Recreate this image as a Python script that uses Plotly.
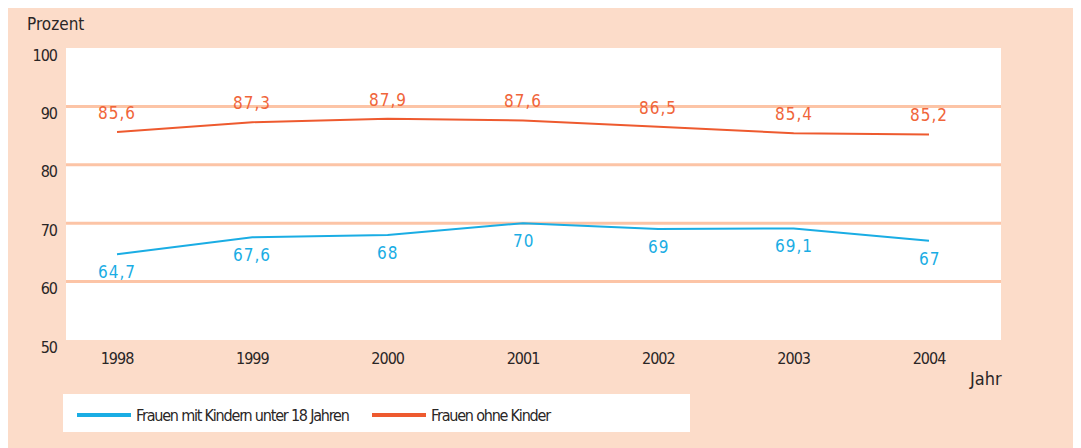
import plotly.graph_objects as go

years = [1998, 1999, 2000, 2001, 2002, 2003, 2004]
mit_kindern = [64.7, 67.6, 68.0, 70.0, 69.0, 69.1, 67.0]
ohne_kinder = [85.6, 87.3, 87.9, 87.6, 86.5, 85.4, 85.2]
y_ticks = [50, 60, 70, 80, 90, 100]
name_mit = "Frauen mit Kindern unter 18 Jahren"
name_ohne = "Frauen ohne Kinder"

BLUE = "#1AADE4"
ORANGE = "#EE5A2F"
LBL_ORANGE = "#F0653A"
PEACH = "#FCDCC9"
GRID = "#FCC4A6"
DARK = "#2A2626"
FONT = "DejaVu Sans Condensed, DejaVu Sans, sans-serif"

W, H = 1081, 440
L, R, T, B = 58, 88, 40, 108
pw, ph = W - L - R, H - T - B


def px_x(p):
    return (p - L) / pw


def px_y(p):
    return (H - B - p) / ph


def fmt(v):
    s = ("%.1f" % v).replace(".", ",")
    if s.endswith(",0"):
        s = s[:-2]
    return s


def sp(text, ls):
    return '<span style="letter-spacing:%spx">%s</span>' % (ls, text)


fig = go.Figure()
fig.add_trace(go.Scatter(x=years, y=mit_kindern, mode="lines", line=dict(color=BLUE, width=2),
                         showlegend=False, hoverinfo="skip"))
fig.add_trace(go.Scatter(x=years, y=ohne_kinder, mode="lines", line=dict(color=ORANGE, width=2),
                         showlegend=False, hoverinfo="skip"))
# legend entries
fig.add_trace(go.Scatter(x=[None], y=[None], mode="lines", line=dict(color=BLUE, width=4),
                         name=sp(name_mit, -1.2)))
fig.add_trace(go.Scatter(x=[None], y=[None], mode="lines", line=dict(color=ORANGE, width=4),
                         name=sp(name_ohne, -1.2)))

anns = []
for x, v in zip(years, mit_kindern):
    anns.append(dict(x=x, y=v, xref="x", yref="y", text=sp(fmt(v), 1),
                     showarrow=False, yshift=-18, font=dict(family=FONT, size=17, color=BLUE)))
for x, v in zip(years, ohne_kinder):
    anns.append(dict(x=x, y=v, xref="x", yref="y", text=sp(fmt(v), 1),
                     showarrow=False, yshift=19, font=dict(family=FONT, size=17, color=LBL_ORANGE)))
anns.append(dict(x=px_x(17), y=px_y(16), xref="paper", yref="paper", text="Prozent", showarrow=False,
                 xanchor="left", yanchor="middle", font=dict(family=FONT, size=17, color=DARK)))
anns.append(dict(x=px_x(996), y=px_y(370), xref="paper", yref="paper", text="Jahr", showarrow=False,
                 xanchor="right", yanchor="middle", font=dict(family=FONT, size=18, color=DARK)))

shapes = [
    # legend box
    dict(type="rect", xref="paper", yref="paper", x0=px_x(55), x1=px_x(682), y0=px_y(424), y1=px_y(386),
         fillcolor="white", line_width=0, layer="below"),
]

fig.update_layout(
    width=W, height=H,
    margin=dict(l=L, r=R, t=T, b=B, pad=0),
    paper_bgcolor=PEACH, plot_bgcolor="white",
    font=dict(family=FONT, size=16, color=DARK),
    xaxis=dict(range=[1997.623, 2004.532], tickmode="array", tickvals=years,
               ticktext=[sp(str(y), -1) for y in years],
               showgrid=False, zeroline=False, showline=False, ticks="", ticklabelstandoff=7,
               tickfont=dict(family=FONT, size=16, color=DARK), fixedrange=True),
    yaxis=dict(range=[50, 100], tickmode="array", tickvals=y_ticks,
               ticktext=[sp(str(t), -1) for t in y_ticks],
               showgrid=False, zeroline=False,
               showline=False, ticks="", ticklabelstandoff=8, ticklabelshift=7,
               tickfont=dict(family=FONT, size=16, color=DARK), fixedrange=True),
    showlegend=True,
    legend=dict(orientation="h", x=px_x(64), y=px_y(407), xanchor="left", yanchor="middle",
                bgcolor="rgba(0,0,0,0)", font=dict(family=FONT, size=16, color=DARK),
                entrywidth=226, entrywidthmode="pixels", itemwidth=54),
    annotations=anns,
    shapes=shapes,
)
for g in [60, 70, 80, 90]:
    fig.add_shape(type="line", xref="paper", yref="y", x0=0, x1=1, y0=g, y1=g,
                  line=dict(color=GRID, width=3), layer="below")

fig.write_html("out.html")
